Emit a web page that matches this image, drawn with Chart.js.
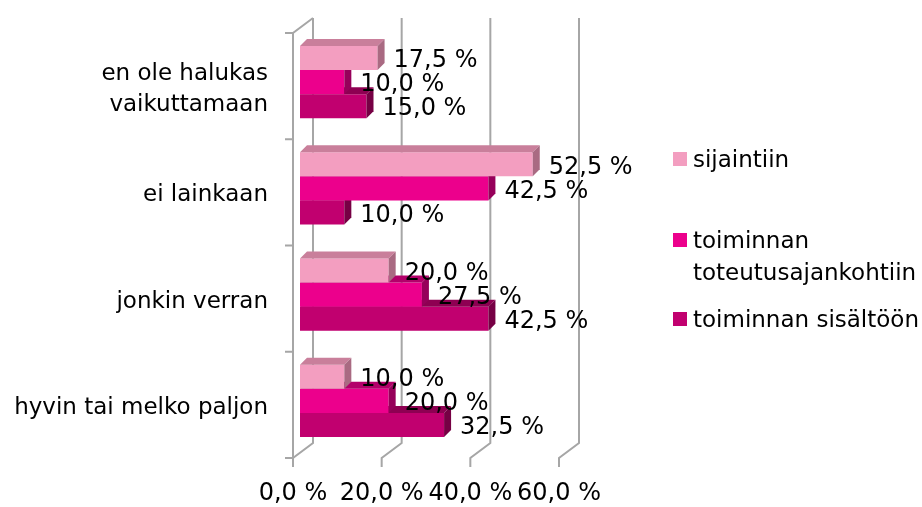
<!DOCTYPE html>
<html>
<head>
<meta charset="utf-8">
<script src="https://cdn.jsdelivr.net/npm/chart.js@4/dist/chart.umd.min.js"></script>
<style>
  html, body { margin: 0; padding: 0; background: #fff; }
  #wrap { position: relative; width: 922px; height: 507px; font-family: 'DejaVu Sans', sans-serif; }
  #legend { position: absolute; left: 673px; top: 0; font-size: 23px; color: #000; }
  #legend .item { position: absolute; left: 0; white-space: nowrap; }
  #legend .box { position: absolute; left: 0; width: 14px; height: 14px; }
  #legend .txt { position: absolute; left: 20px; line-height: 32px; }
</style>
</head>
<body>
<div id="wrap">
  <canvas id="c" width="922" height="507"></canvas>
  <div id="legend"></div>
</div>
<script>
// categories top to bottom, multi-line labels as arrays
const categories = [['en ole halukas', 'vaikuttamaan'], 'ei lainkaan', 'jonkin verran', 'hyvin tai melko paljon'];
const seriesNames = ['sijaintiin', 'toiminnan toteutusajankohtiin', 'toiminnan sisältöön'];
const legendLines = [['sijaintiin'], ['toiminnan', 'toteutusajankohtiin'], ['toiminnan sisältöön']];
const sijaintiin = [17.5, 52.5, 20.0, 10.0];
const toteutusajankohtiin = [10.0, 42.5, 27.5, 20.0];
const sisaltoon = [15.0, 10.0, 42.5, 32.5];
const xTicks = [0, 20, 40, 60];

const FRONT = ['#f39ec0', '#ec008c', '#c1006f'];
const TOP = ['#c97f9b', '#b3006a', '#8e0052'];
const SIDE = ['#a96a82', '#96005a', '#760044'];
const DEPTH = 7;
const FONT = "'DejaVu Sans', sans-serif";
const fmt = (v) => v.toFixed(1).replace('.', ',') + ' %';

// 3D frame: left wall, back wall grid, floor diagonals (front plane sits 7px left / 4px below bar plane)
const frame3d = {
  id: 'frame3d',
  beforeDatasetsDraw(chart) {
    const { ctx, chartArea: ca, scales: { x } } = chart;
    const fx = (v) => x.getPixelForValue(v) - 7;
    const fTop = ca.top + 4, fBot = ca.bottom + 4;
    const bdx = 20, bdy = -15;
    ctx.save();
    ctx.strokeStyle = '#a6a6a6';
    ctx.lineWidth = 2;
    ctx.beginPath();
    xTicks.forEach((v) => {
      const px = fx(v);
      ctx.moveTo(px + bdx, fTop + bdy);
      ctx.lineTo(px + bdx, fBot + bdy);
      ctx.lineTo(px, fBot);
      ctx.lineTo(px, fBot + 9);
    });
    // left wall front edge and top
    ctx.moveTo(fx(0), fBot);
    ctx.lineTo(fx(0), fTop);
    ctx.lineTo(fx(0) + bdx, fTop + bdy);
    // category boundary ticks
    const step = (fBot - fTop) / categories.length;
    for (let i = 0; i <= categories.length; i++) {
      ctx.moveTo(fx(0) - 8, fTop + i * step);
      ctx.lineTo(fx(0), fTop + i * step);
    }
    ctx.stroke();
    ctx.restore();
  },
  afterDatasetDraw(chart, args) {
    const { ctx } = chart;
    const i = args.index;
    ctx.save();
    args.meta.data.forEach((bar) => {
      const { x, y, base, height } = bar.getProps(['x', 'y', 'base', 'height'], true);
      const t = y - height / 2, b = y + height / 2, d = DEPTH;
      ctx.fillStyle = TOP[i];
      ctx.beginPath();
      ctx.moveTo(base, t); ctx.lineTo(base + d, t - d); ctx.lineTo(x + d, t - d); ctx.lineTo(x, t);
      ctx.closePath(); ctx.fill();
      ctx.fillStyle = SIDE[i];
      ctx.beginPath();
      ctx.moveTo(x, t); ctx.lineTo(x + d, t - d); ctx.lineTo(x + d, b - d); ctx.lineTo(x, b);
      ctx.closePath(); ctx.fill();
    });
    ctx.restore();
  },
  afterDatasetsDraw(chart) {
    const { ctx } = chart;
    ctx.save();
    ctx.font = '24px ' + FONT;
    ctx.fillStyle = '#000';
    ctx.textAlign = 'left';
    ctx.textBaseline = 'middle';
    chart.data.datasets.forEach((ds, i) => {
      chart.getDatasetMeta(i).data.forEach((bar, j) => {
        ctx.fillText(fmt(ds.data[j]), bar.x + 16, bar.y + 3);
      });
    });
    ctx.restore();
  },
};

const seriesData = [sijaintiin, toteutusajankohtiin, sisaltoon];

new Chart(document.getElementById('c'), {
  type: 'bar',
  data: {
    labels: categories,
    datasets: seriesNames.map((name, i) => ({
      label: name,
      data: seriesData[i],
      backgroundColor: FRONT[i],
      borderWidth: 0,
      barPercentage: 1,
      categoryPercentage: 0.68,
    })),
  },
  options: {
    indexAxis: 'y',
    responsive: false,
    animation: false,
    layout: { padding: { top: 29, right: 356, bottom: 0, left: 0 } },
    plugins: { legend: { display: false }, tooltip: { enabled: false } },
    scales: {
      x: {
        min: 0, max: 60,
        afterFit: (s) => { s.height = 53; s.paddingLeft = 0; s.paddingRight = 0; },
        afterBuildTicks: (s) => { s.ticks = xTicks.map((v) => ({ value: v })); },
        border: { display: false },
        grid: { display: false, drawTicks: false },
        ticks: { callback: (v) => fmt(v), color: '#000', font: { family: FONT, size: 24 }, padding: 25, labelOffset: -7, maxRotation: 0, autoSkip: false },
      },
      y: {
        afterFit: (s) => { s.width = 300; s.paddingTop = 0; s.paddingBottom = 0; },
        border: { display: false },
        grid: { display: false, drawTicks: false },
        ticks: { color: '#000', font: { family: FONT, size: 23, lineHeight: 1.35 }, padding: 32, labelOffset: 7, autoSkip: false },
      },
    },
  },
  plugins: [frame3d],
});

// HTML legend (multi-line entry)
const legendTops = [143, 224, 303];
const lg = document.getElementById('legend');
legendLines.forEach((lines, i) => {
  const item = document.createElement('div');
  item.className = 'item';
  item.style.top = legendTops[i] + 'px';
  item.innerHTML = '<div class="box" style="top:9px;background:' + FRONT[i] + '"></div>' +
    '<div class="txt">' + lines.join('<br>') + '</div>';
  lg.appendChild(item);
});
</script>
</body>
</html>
